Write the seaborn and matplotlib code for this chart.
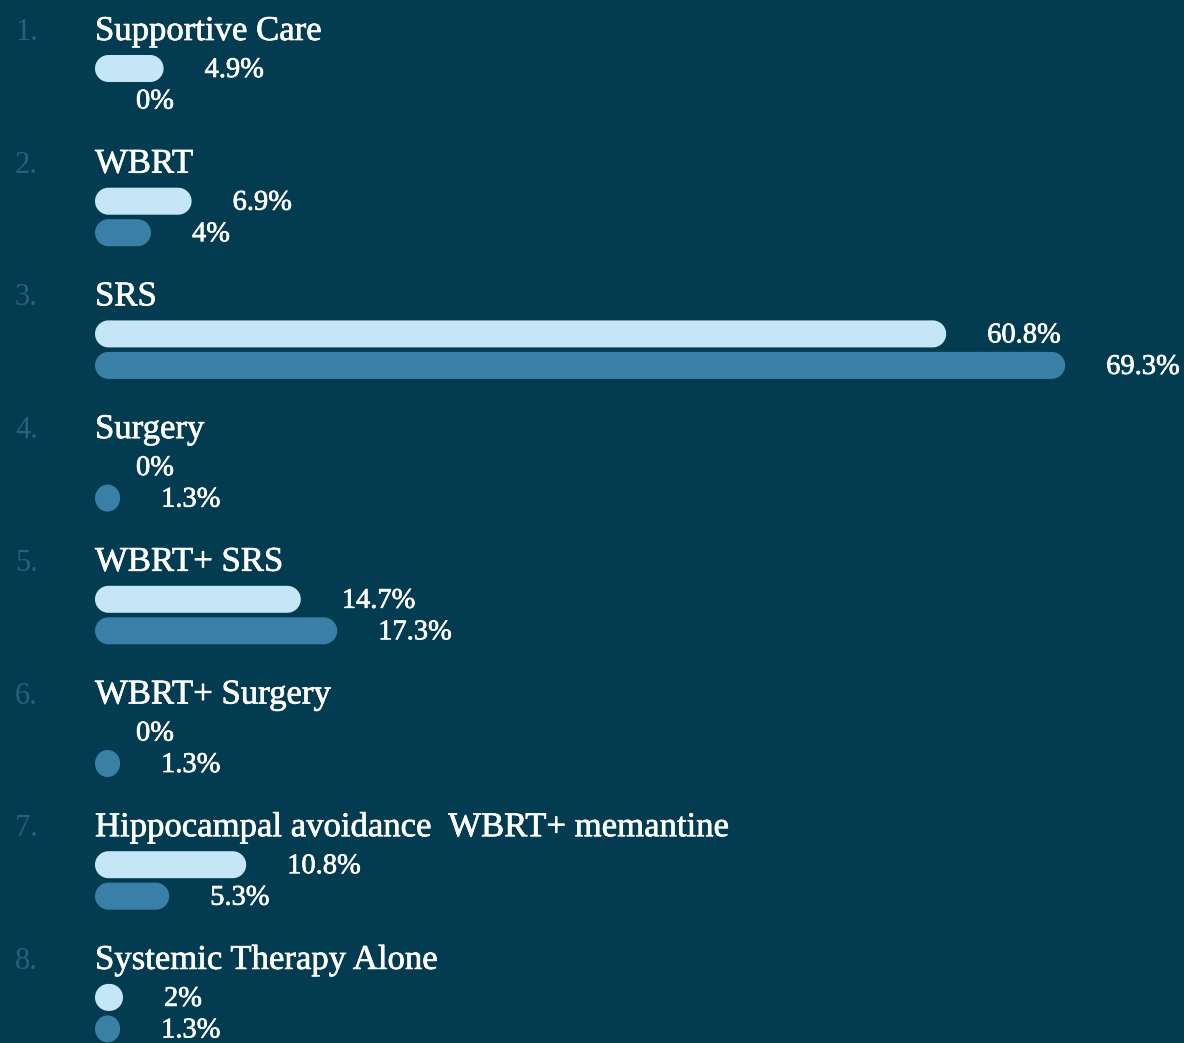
import matplotlib
matplotlib.use("Agg")
import matplotlib.pyplot as plt
from matplotlib.patches import Rectangle, Polygon
import matplotlib.patheffects as pe
import seaborn as sns
import pandas as pd
import numpy as np

categories = ["Supportive Care", "WBRT", "SRS", "Surgery", "WBRT+ SRS",
              "WBRT+ Surgery", "Hippocampal avoidance  WBRT+ memantine",
              "Systemic Therapy Alone"]
series_a = [4.9, 6.9, 60.8, 0, 14.7, 0, 10.8, 2]
series_b = [0, 4, 69.3, 1.3, 17.3, 1.3, 5.3, 1.3]
value_labels_a = ["4.9%", "6.9%", "60.8%", "0%", "14.7%", "0%", "10.8%", "2%"]
value_labels_b = ["0%", "4%", "69.3%", "1.3%", "17.3%", "1.3%", "5.3%", "1.3%"]

BG = "#033c51"
LIGHT = "#c4e6f6"
DARK = "#3a7fa6"
NUMC = "#2b5f7c"
W, H = 1184, 1043
PX_PER_PCT = 14.0
X0 = 95
BAR_H = 27
STEP = 132.7
BASE0 = 40

sns.set_theme(style="white")
plt.rcParams['font.family'] = ['Liberation Serif', 'DejaVu Serif']

fig = plt.figure(figsize=(W / 100, H / 100), dpi=100, facecolor=BG)
ax = fig.add_axes([0, 0, 1, 1])
ax.set_facecolor(BG)

n = len(categories)
baselines = np.array([BASE0 + i * STEP for i in range(n)])
pos_a = baselines + 28.5
pos_b = baselines + 60.0

df = pd.DataFrame({
    "value": list(series_a) + list(series_b),
    "pos": list(pos_a) + list(pos_b),
    "series": ["a"] * n + ["b"] * n,
})

width_rel = BAR_H / (pos_b[0] - pos_a[0])
sns.barplot(data=df, x="value", y="pos", hue="series", orient="y",
            native_scale=True, dodge=False, width=width_rel,
            palette={"a": LIGHT, "b": DARK}, legend=False, ax=ax,
            saturation=1, errorbar=None)

ax.set_xlim(-X0 / PX_PER_PCT, (W - X0) / PX_PER_PCT)
ax.set_ylim(H, 0)


def pill(x, yc, wd, h, rx):
    ry = h / 2
    t1 = np.linspace(np.pi / 2, 3 * np.pi / 2, 40)
    t2 = np.linspace(-np.pi / 2, np.pi / 2, 40)
    left = np.column_stack([x + rx + rx * np.cos(t1), yc + ry * np.sin(t1)])
    right = np.column_stack([x + wd - rx + rx * np.cos(t2), yc + ry * np.sin(t2)])
    return np.vstack([left, right])


rects = [p for p in ax.patches if isinstance(p, Rectangle)]
ends = {}
for p in rects:
    x, y = p.get_x(), p.get_y()
    w, h = p.get_width(), abs(p.get_height())
    yc = y + p.get_height() / 2
    color = p.get_facecolor()
    p.remove()
    if w <= 0:
        ends[round(yc, 1)] = 0.0
        continue
    hx = h / PX_PER_PCT
    wd = max(w, hx * 0.93)
    rx = min(wd, hx) / 2
    ax.add_patch(Polygon(pill(x, yc, wd, h, rx), closed=True,
                         facecolor=color, edgecolor="none", linewidth=0))
    ends[round(yc, 1)] = wd

stroke = [pe.withStroke(linewidth=0.5, foreground="white")]
label_off = 41 / PX_PER_PCT
for i in range(n):
    ax.text(-80 / PX_PER_PCT, baselines[i], f"{i + 1}.", color=NUMC,
            fontsize=22, va="baseline", ha="left")
    ax.text(0, baselines[i], categories[i], color="white", fontsize=25,
            va="baseline", ha="left", path_effects=stroke)
    for pos, lab in ((pos_a[i], value_labels_a[i]), (pos_b[i], value_labels_b[i])):
        e = ends.get(round(pos, 1), 0.0)
        ax.text(e + label_off, pos + 2, lab, color="white", fontsize=20.5,
                va="center", ha="left", path_effects=stroke)

ax.set_axis_off()
fig.savefig("out.png", dpi=100, facecolor=BG)
